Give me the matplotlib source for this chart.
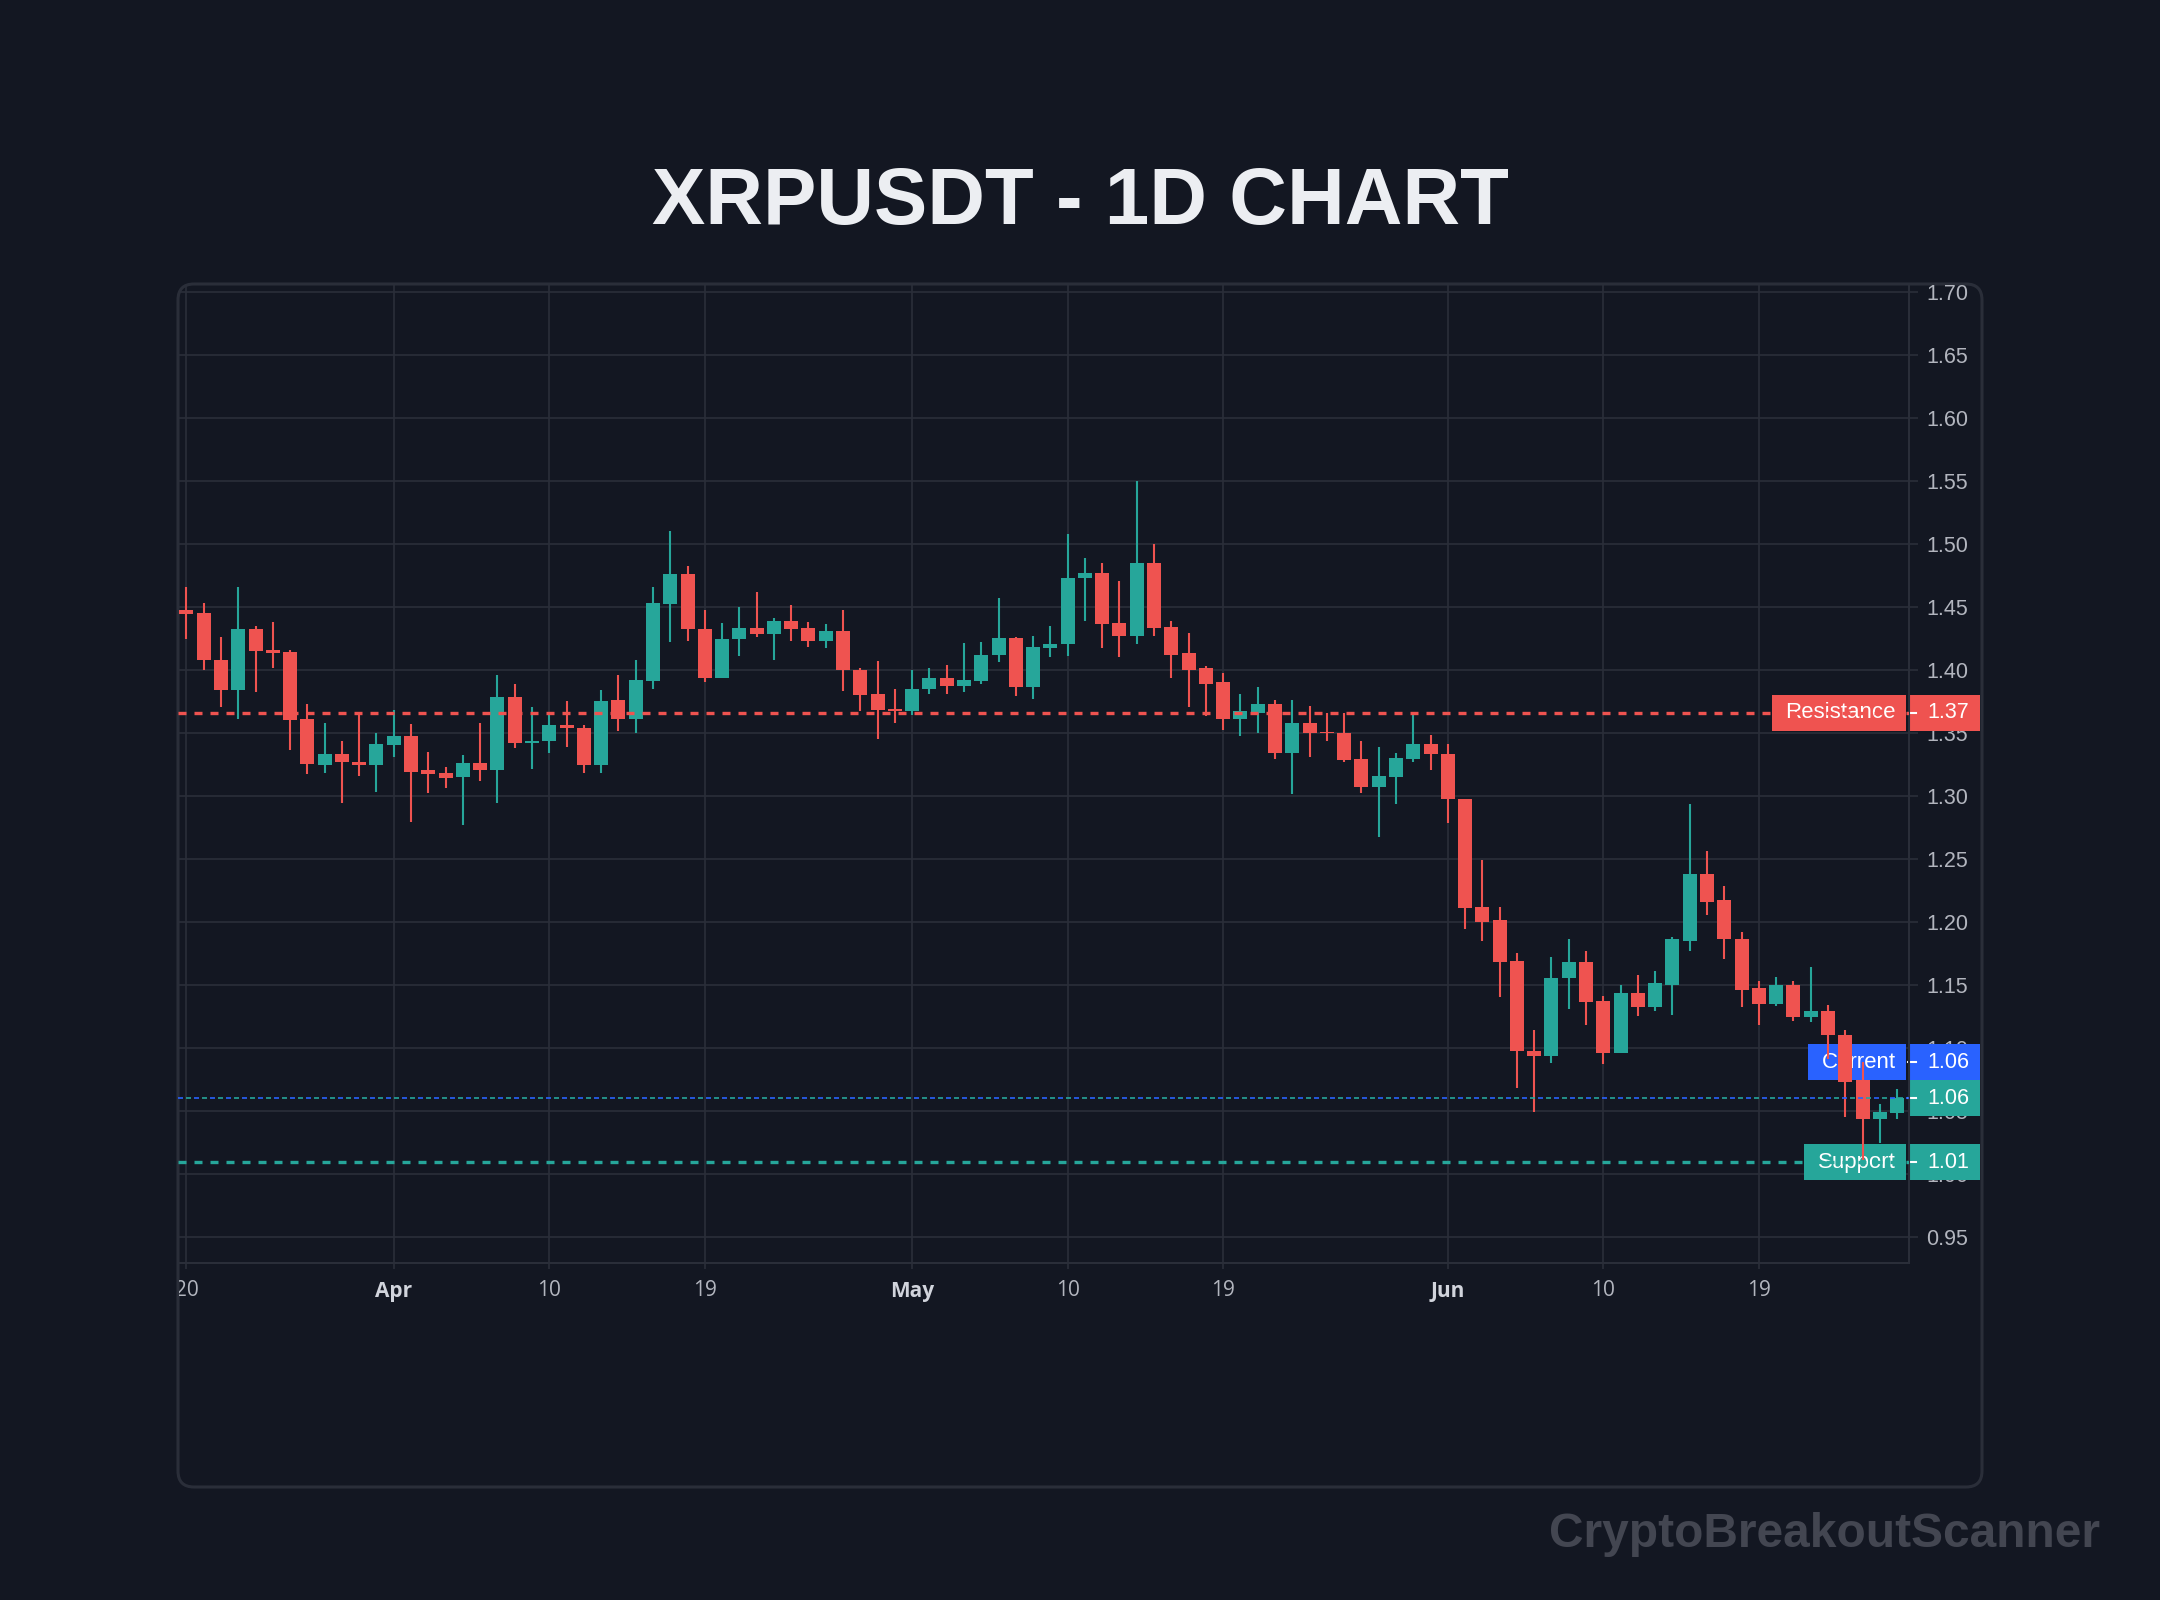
import matplotlib
matplotlib.use("Agg")
import matplotlib.pyplot as plt
import matplotlib.dates as mdates
import matplotlib.transforms as mtransforms
from matplotlib.patches import FancyBboxPatch, Rectangle
import pandas as pd
import numpy as np

# ---------------- data ----------------
start_date = "2024-03-20"
opens = [1.447, 1.445, 1.408, 1.384, 1.432, 1.416, 1.414, 1.361, 1.324, 1.333,
         1.327, 1.324, 1.340, 1.347, 1.320, 1.318, 1.315, 1.326, 1.320, 1.378,
         1.342, 1.343, 1.356, 1.354, 1.324, 1.376, 1.361, 1.391, 1.452, 1.476,
         1.432, 1.393, 1.424, 1.433, 1.428, 1.439, 1.433, 1.423, 1.431, 1.400,
         1.381, 1.369, 1.367, 1.385, 1.393, 1.387, 1.391, 1.412, 1.425, 1.386,
         1.417, 1.420, 1.473, 1.477, 1.437, 1.427, 1.485, 1.434, 1.413, 1.401,
         1.390, 1.361, 1.366, 1.373, 1.334, 1.358, 1.3505, 1.350, 1.329, 1.307,
         1.315, 1.329, 1.341, 1.333, 1.297, 1.212, 1.201, 1.169, 1.097, 1.093,
         1.155, 1.168, 1.137, 1.096, 1.143, 1.132, 1.150, 1.185, 1.238, 1.217,
         1.186, 1.147, 1.135, 1.150, 1.124, 1.129, 1.110, 1.074, 1.043, 1.048]
highs = [1.466, 1.453, 1.426, 1.466, 1.435, 1.438, 1.416, 1.373, 1.358, 1.343,
         1.365, 1.350, 1.368, 1.357, 1.335, 1.323, 1.332, 1.358, 1.396, 1.389,
         1.370, 1.366, 1.375, 1.356, 1.384, 1.396, 1.408, 1.466, 1.510, 1.482,
         1.447, 1.437, 1.450, 1.462, 1.441, 1.451, 1.438, 1.436, 1.447, 1.401,
         1.407, 1.385, 1.400, 1.401, 1.404, 1.421, 1.422, 1.457, 1.426, 1.427,
         1.435, 1.508, 1.489, 1.485, 1.470, 1.550, 1.500, 1.439, 1.429, 1.403,
         1.397, 1.381, 1.386, 1.376, 1.376, 1.371, 1.366, 1.366, 1.343, 1.339,
         1.334, 1.366, 1.348, 1.341, 1.297, 1.249, 1.212, 1.175, 1.114, 1.172,
         1.186, 1.177, 1.141, 1.150, 1.158, 1.161, 1.188, 1.293, 1.256, 1.228,
         1.192, 1.153, 1.156, 1.153, 1.164, 1.134, 1.114, 1.089, 1.055, 1.067]
lows = [1.424, 1.400, 1.370, 1.361, 1.382, 1.401, 1.336, 1.317, 1.318, 1.294,
        1.316, 1.303, 1.331, 1.279, 1.302, 1.306, 1.277, 1.312, 1.294, 1.338,
        1.321, 1.334, 1.339, 1.318, 1.318, 1.351, 1.350, 1.385, 1.422, 1.423,
        1.390, 1.393, 1.411, 1.426, 1.408, 1.423, 1.418, 1.417, 1.383, 1.367,
        1.345, 1.358, 1.364, 1.381, 1.381, 1.382, 1.389, 1.406, 1.379, 1.377,
        1.410, 1.411, 1.439, 1.417, 1.410, 1.420, 1.427, 1.393, 1.370, 1.363,
        1.352, 1.347, 1.350, 1.329, 1.301, 1.331, 1.343, 1.327, 1.302, 1.267,
        1.293, 1.327, 1.320, 1.278, 1.194, 1.185, 1.140, 1.068, 1.049, 1.088,
        1.131, 1.118, 1.087, 1.096, 1.125, 1.129, 1.126, 1.177, 1.205, 1.170,
        1.132, 1.118, 1.133, 1.121, 1.120, 1.091, 1.045, 1.011, 1.024, 1.043]
closes = [1.444, 1.408, 1.384, 1.432, 1.415, 1.413, 1.360, 1.325, 1.333, 1.327,
          1.324, 1.341, 1.347, 1.319, 1.317, 1.314, 1.326, 1.320, 1.378, 1.342,
          1.343, 1.356, 1.354, 1.324, 1.375, 1.361, 1.392, 1.453, 1.476, 1.432,
          1.393, 1.424, 1.433, 1.428, 1.439, 1.432, 1.423, 1.431, 1.400, 1.380,
          1.368, 1.367, 1.385, 1.393, 1.387, 1.392, 1.412, 1.425, 1.386, 1.418,
          1.420, 1.473, 1.477, 1.436, 1.427, 1.485, 1.433, 1.412, 1.400, 1.389,
          1.361, 1.367, 1.373, 1.334, 1.358, 1.350, 1.3497, 1.328, 1.307, 1.316,
          1.330, 1.341, 1.333, 1.297, 1.211, 1.200, 1.168, 1.097, 1.093, 1.155,
          1.168, 1.136, 1.096, 1.143, 1.132, 1.151, 1.186, 1.238, 1.216, 1.186,
          1.146, 1.135, 1.150, 1.124, 1.129, 1.110, 1.073, 1.043, 1.049, 1.060]

resistance = 1.366
support = 1.009
current = closes[-1]

tick_dates = ["2024-03-20", "2024-04-01", "2024-04-10", "2024-04-19", "2024-05-01",
              "2024-05-10", "2024-05-19", "2024-06-01", "2024-06-10", "2024-06-19"]
tick_labels = ["20", "Apr", "10", "19", "May", "10", "19", "Jun", "10", "19"]
month_labels = {"Apr", "May", "Jun"}
y_ticks = [0.95, 1.00, 1.05, 1.10, 1.15, 1.20, 1.25, 1.30, 1.35, 1.40,
           1.45, 1.50, 1.55, 1.60, 1.65, 1.70]

# ---------------- style ----------------
BG = "#131722"
GRID = "#2a2e39"
UP = "#26a69a"
DOWN = "#ef5350"
BLUE = "#2962ff"
TXT = "#b2b5be"

W, H = 2160, 1600
fig = plt.figure(figsize=(W / 100, H / 100), dpi=100, facecolor=BG)

# card
card = FancyBboxPatch((178, H - 1487), 1982 - 178, 1487 - 284,
                      boxstyle="round,pad=0,rounding_size=16",
                      transform=mtransforms.IdentityTransform(),
                      facecolor="none", edgecolor=GRID, linewidth=2.2, zorder=-1)
fig.patches.append(card)

ax_l, ax_r, ax_t, ax_b = 178, 1909, 285, 1262.5
ax = fig.add_axes([ax_l / W, 1 - ax_b / H, (ax_r - ax_l) / W, (ax_b - ax_t) / H])
ax.set_facecolor("none")
ax.set_zorder(1)

dates = pd.date_range(start_date, periods=len(opens), freq="D")
x = mdates.date2num(dates)
o = np.array(opens); h = np.array(highs); l = np.array(lows); c = np.array(closes)
up = c >= o
colors = np.where(up, UP, DOWN)

ax.vlines(x, l, h, colors=colors, linewidth=1.5, zorder=3)
body_lo = np.minimum(o, c)
body_h = np.maximum(np.abs(c - o), 0.0009)
ax.bar(x, body_h, bottom=body_lo, width=0.81, color=colors, linewidth=0, zorder=3)

x0 = mdates.date2num(pd.Timestamp(start_date))
ax.set_xlim(x0 - 0.486, x0 + 99.69)
ax.set_ylim(0.9295, 1.7053)

# grid/ticks
ax.set_axisbelow(True)
ax.grid(True, color=GRID, linewidth=1.2)
ax.yaxis.tick_right()
ax.set_yticks(y_ticks)
ax.set_yticklabels([f"{v:.2f}" for v in y_ticks], fontfamily="Liberation Sans")
xt = mdates.date2num(pd.to_datetime(tick_dates))
ax.set_xticks(xt)
ax.set_xticklabels([])
ax.tick_params(axis="y", length=6.5, width=1.2, color=GRID, labelsize=15.5,
               labelcolor=TXT, pad=6)
ax.tick_params(axis="x", length=4.5, width=1.2, color=GRID)

# x labels as text (bold month names)
xlab_tr = mtransforms.blended_transform_factory(ax.transData, ax.transAxes)
ylab = (ax_b - 1291) / (ax_b - ax_t)
clip_bb = mtransforms.Bbox.from_extents(179, 0, W, H)
for xv, lab in zip(xt, tick_labels):
    is_month = lab in month_labels
    t = ax.text(xv, ylab, lab, transform=xlab_tr, ha="center", va="center",
                fontsize=15, fontfamily=["Open Sans", "DejaVu Sans"],
                fontweight="bold" if is_month else "normal",
                color="#d1d4dc" if is_month else TXT, clip_on=True)
    t.set_clip_box(clip_bb)

for s in ["top", "left"]:
    ax.spines[s].set_visible(False)
for s in ["bottom", "right"]:
    ax.spines[s].set_color(GRID)
    ax.spines[s].set_linewidth(1.5)

# level lines
ax.axhline(resistance, color=DOWN, linewidth=2.4, linestyle=(0, (2.4, 2.4)), zorder=4)
ax.axhline(support, color=UP, linewidth=2.4, linestyle=(0, (2.4, 2.4)), zorder=4)
ax.axhline(current, color=BLUE, linewidth=1.2, linestyle=(0, (3.0, 6.6)), zorder=4)
ax.axhline(current, color=UP, linewidth=1.2, linestyle=(4.8, (3.0, 6.6)), zorder=4)

# price labels
axw = ax_r - ax_l
bt = mtransforms.blended_transform_factory(ax.transAxes, ax.transData)
px_per_unit = (ax_b - ax_t) / (1.7053 - 0.9295)
box_h = 36 / px_per_unit


def fx(px):
    return (px - ax_l) / axw


def price_label(yc, name, name_x0, value_text, color):
    if name is not None:
        ax.add_patch(Rectangle((fx(name_x0), yc - box_h / 2), fx(1906) - fx(name_x0), box_h,
                               transform=bt, facecolor=color, edgecolor="none",
                               clip_on=False, zorder=2))
        ax.text(fx(1896), yc, name, transform=bt, ha="right", va="center", fontsize=16,
                color="white", fontfamily="Liberation Sans", zorder=2.1, clip_on=False)
    ax.add_patch(Rectangle((fx(1908), yc - box_h / 2), fx(1980) - fx(1908), box_h,
                           transform=bt, facecolor=color, edgecolor="none",
                           clip_on=False, zorder=2))
    ax.plot([fx(1908), fx(1916)], [yc, yc], transform=bt, color="white", linewidth=1.5,
            clip_on=False, zorder=2.1)
    ax.text(fx(1927), yc, value_text, transform=bt, ha="left", va="center", fontsize=15.5,
            color="white", fontfamily="Liberation Sans", zorder=2.1, clip_on=False)


price_label(resistance, "Resistance", 1772, f"{resistance:.2f}", DOWN)
price_label(current + box_h, "Current", 1808, f"{current:.2f}", BLUE)
price_label(current, None, None, f"{current:.2f}", UP)
price_label(support, "Support", 1804, f"{support:.2f}", UP)

# title and watermark
fig.text(0.5, 1 - 224 / H, "XRPUSDT - 1D CHART", ha="center", va="baseline",
         fontsize=57.5, fontweight="bold", color="#eceef2", fontfamily="Liberation Sans")
fig.text(2100 / W, 1 - 1547 / H, "CryptoBreakoutScanner", ha="right", va="baseline",
         fontsize=34.5, fontweight="bold", color="#434651", fontfamily="Liberation Sans")

fig.savefig("out.png", dpi=100, facecolor=BG)
